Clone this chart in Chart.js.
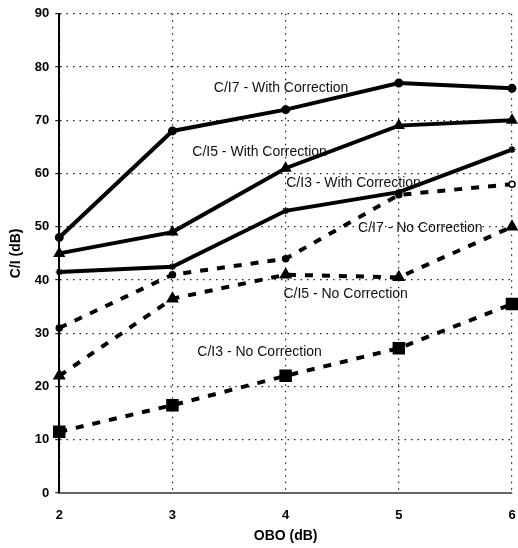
<!DOCTYPE html>
<html>
<head>
<meta charset="utf-8">
<script src="https://cdn.jsdelivr.net/npm/chart.js@4/dist/chart.umd.min.js"></script>
<style>
  body { margin: 0; background: #fff; }
  #wrap { width: 518px; height: 548px; }
</style>
</head>
<body>
<div id="wrap"><canvas id="myChart" width="518" height="548"></canvas></div>
<script>
// OBO values (dB)
var obo = [2, 3, 4, 5, 6];

// C/I values (dB)
var ci7With = [48, 68, 72, 77, 76];
var ci5With = [45, 49, 61, 69, 70];
var ci3With = [41.5, 42.5, 53, 56.5, 64.5];
var ci7No = [31, 41, 44, 56, 58];
var ci5No = [22, 36.5, 41, 40.5, 50];
var ci3No = [11.5, 16.5, 22, 27.2, 35.5];

var seriesNames = ['C/I7 - With Correction', 'C/I5 - With Correction', 'C/I3 - With Correction',
	'C/I7 - No Correction', 'C/I5 - No Correction', 'C/I3 - No Correction'];

// where each curve's name is written, in data units
var labelX = [3.96, 3.77, 4.6, 5.19, 4.53, 3.77];
var labelY = [76, 64, 58.2, 49.7, 37.3, 26.5];

var yTicks = [0, 10, 20, 30, 40, 50, 60, 70, 80, 90];

function pts(arr) {
	return obo.map(function(x, i) { return { x: x, y: arr[i] }; });
}

var curveLabels = {
	id: 'curveLabels',
	afterDatasetsDraw: function(chart) {
		var ctx = chart.ctx;
		var xs = chart.scales.x, ys = chart.scales.y;
		ctx.save();
		ctx.font = '14px "Liberation Sans", Arial, sans-serif';
		ctx.fillStyle = '#111';
		ctx.textAlign = 'center';
		ctx.textBaseline = 'middle';
		for (var i = 0; i < seriesNames.length; i++) {
			ctx.fillText(seriesNames[i], xs.getPixelForValue(labelX[i]), ys.getPixelForValue(labelY[i]));
		}
		ctx.restore();
	}
};

var solid = { borderColor: '#000', backgroundColor: '#000', borderWidth: 4, fill: false, tension: 0, clip: false };
var dashed = { borderColor: '#000', backgroundColor: '#000', borderWidth: 4, borderDash: [8, 9], fill: false, tension: 0, clip: false };

function ds(base, label, data, extra) {
	var o = { label: label, data: pts(data) };
	for (var k in base) o[k] = base[k];
	for (var k2 in extra) o[k2] = extra[k2];
	return o;
}

var tickFont = { family: '"Liberation Sans", Arial, sans-serif', size: 13, weight: 'bold' };
var titleFont = { family: '"Liberation Sans", Arial, sans-serif', size: 14, weight: 'bold' };

var ctx = document.getElementById('myChart').getContext('2d');
var chart = new Chart(ctx, {
	type: 'line',
	data: {
		datasets: [
			ds(solid, seriesNames[0], ci7With, { pointStyle: 'circle', pointRadius: 2.5 }),
			ds(solid, seriesNames[1], ci5With, { pointStyle: 'triangle', pointRadius: 3 }),
			ds(solid, seriesNames[2], ci3With, { pointStyle: 'star', pointRadius: 3.5, pointBorderWidth: 1.5 }),
			ds(dashed, seriesNames[3], ci7No, { pointStyle: 'circle', pointRadius: 3,
				pointBackgroundColor: ['#000', '#000', '#000', '#000', '#fff'], pointBorderWidth: 1.5 }),
			ds(dashed, seriesNames[4], ci5No, { pointStyle: 'triangle', pointRadius: 3.5 }),
			ds(dashed, seriesNames[5], ci3No, { pointStyle: 'rect', pointRadius: 6 })
		]
	},
	options: {
		responsive: false,
		animation: false,
		layout: { autoPadding: false, padding: { left: 8, right: 6, top: 12, bottom: 3 } },
		plugins: {
			legend: { display: false },
			tooltip: { enabled: false }
		},
		scales: {
			x: {
				type: 'linear',
				min: 2,
				max: 6,
				afterFit: function(axis) {
					axis.height = 52;
					axis.paddingRight = 0;
				},
				ticks: { stepSize: 1, color: '#000', font: tickFont, padding: 15 },
				grid: { color: '#222', lineWidth: 1.2, drawTicks: false },
				border: { color: '#666', width: 2, dash: [1.5, 5] },
				title: {
					display: true,
					text: 'OBO (dB)',
					color: '#000',
					font: titleFont,
					padding: { top: 0, bottom: 0 }
				}
			},
			y: {
				min: 0,
				max: 90,
				afterBuildTicks: function(axis) {
					axis.ticks = yTicks.map(function(v) { return { value: v }; });
				},
				ticks: { color: '#000', font: tickFont, padding: 6 },
				grid: { color: '#222', lineWidth: 1.2, drawTicks: true, tickLength: 4 },
				border: { color: '#000', width: 2, dash: [1.5, 5] },
				title: {
					display: true,
					text: 'C/I (dB)',
					color: '#000',
					font: titleFont,
					padding: { top: 0, bottom: 4 }
				}
			}
		}
	},
	plugins: [curveLabels]
});
</script>
</body>
</html>
